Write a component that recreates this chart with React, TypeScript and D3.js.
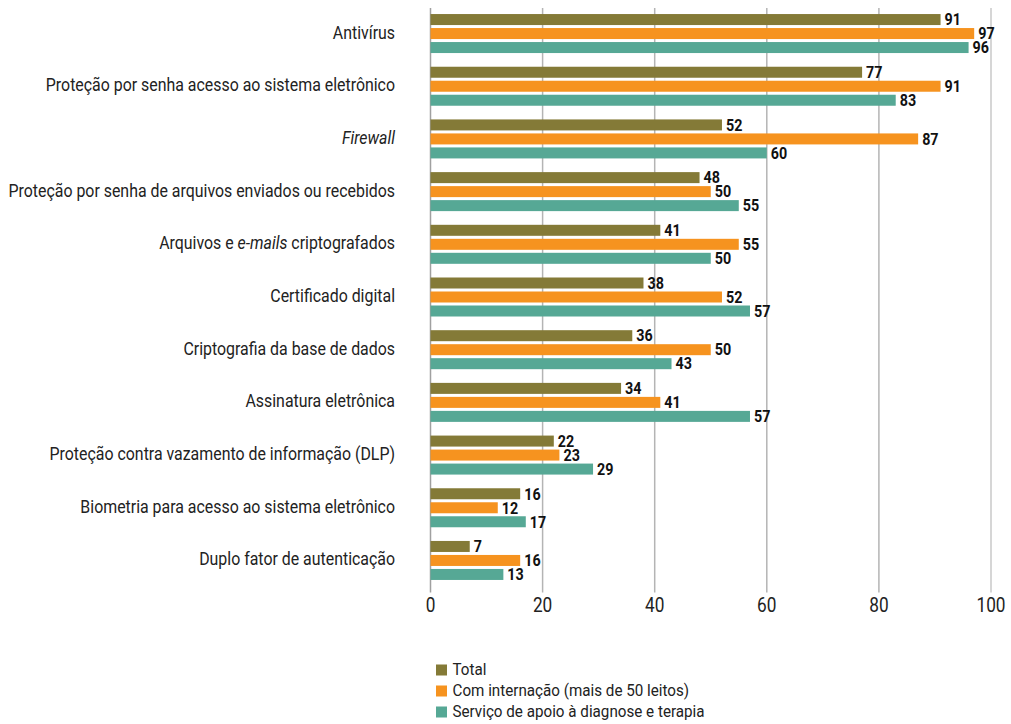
import React, { useLayoutEffect, useRef, useState } from "react";
import * as d3 from "d3";

const categories: string[] = [
  "Antivírus",
  "Proteção por senha acesso ao sistema eletrônico",
  "Firewall",
  "Proteção por senha de arquivos enviados ou recebidos",
  "Arquivos e e-mails criptografados",
  "Certificado digital",
  "Criptografia da base de dados",
  "Assinatura eletrônica",
  "Proteção contra vazamento de informação (DLP)",
  "Biometria para acesso ao sistema eletrônico",
  "Duplo fator de autenticação",
];

const seriesNames: string[] = [
  "Total",
  "Com internação (mais de 50 leitos)",
  "Serviço de apoio à diagnose e terapia",
];

const totalValues: number[] = [91, 77, 52, 48, 41, 38, 36, 34, 22, 16, 7];
const internacaoValues: number[] = [97, 91, 87, 50, 55, 52, 50, 41, 23, 12, 16];
const apoioValues: number[] = [96, 83, 60, 55, 50, 57, 43, 57, 29, 17, 13];

const xTicks: number[] = [0, 20, 40, 60, 80, 100];

const colors: string[] = ["#847a37", "#f6931f", "#56a895"];

const FONT = "Roboto, 'Liberation Sans', sans-serif";
const LABEL_SIZE = 18;
const TARGET_WIDTH = 387; // widest category label width in reference

function renderLabel(c: string) {
  if (c === "Firewall") return <tspan fontStyle="italic">Firewall</tspan>;
  if (c.includes("e-mails")) {
    const [a, b] = c.split("e-mails");
    return (
      <>
        <tspan>{a}</tspan>
        <tspan fontStyle="italic">e-mails</tspan>
        <tspan>{b}</tspan>
      </>
    );
  }
  return c;
}

export default function App() {
  const W = 1011;
  const H = 724;
  const measureRef = useRef<SVGTextElement>(null);
  const [sx, setSx] = useState(0.86);

  useLayoutEffect(() => {
    if (measureRef.current) {
      const w = measureRef.current.getComputedTextLength();
      if (w > 0) setSx(TARGET_WIDTH / w);
    }
  }, []);

  const x = d3.scaleLinear().domain([0, 100]).range([430.5, 991]);
  const y = d3.scaleBand<string>().domain(categories).range([7.2, 586.8]).paddingInner(0).paddingOuter(0);
  const series = [totalValues, internacaoValues, apoioValues];
  const barH = 11;
  const pitch = 14;

  return (
    <svg
      width={W}
      height={H}
      style={{ position: "absolute", left: 0, top: 0, background: "#fff" }}
      fontFamily={FONT}
    >
      <text ref={measureRef} x={-2000} y={-100} fontSize={LABEL_SIZE} visibility="hidden">
        {categories[3]}
      </text>
      {/* gridlines */}
      {xTicks.map((t) => (
        <line
          key={"g" + t}
          x1={x(t)}
          x2={x(t)}
          y1={8}
          y2={592.5}
          stroke={t === 0 ? "#a0a0a0" : t === 100 ? "#c8c8c8" : "#b4b4b4"}
          strokeWidth={1.5}
        />
      ))}
      {/* tick labels */}
      {xTicks.map((t) => (
        <text
          key={"t" + t}
          transform={`translate(${x(t)}, 612.3) scale(${sx}, 1)`}
          textAnchor="middle"
          fontSize={19.5}
          fill="#222"
        >
          {t}
        </text>
      ))}
      {/* categories */}
      {categories.map((c, i) => {
        const cy = (y(c) as number) + y.bandwidth() / 2;
        return (
          <g key={c}>
            <text
              transform={`translate(395, ${cy + 5}) scale(${sx}, 1)`}
              textAnchor="end"
              fontSize={LABEL_SIZE}
              fill="#222"
            >
              {renderLabel(c)}
            </text>
            {series.map((vals, s) => {
              const top = cy - (pitch + barH / 2) + s * pitch;
              return (
                <g key={s}>
                  <rect x={x(0)} y={top} width={x(vals[i]) - x(0)} height={barH} fill={colors[s]} />
                  <text
                    transform={`translate(${x(vals[i]) + 4}, ${top + barH / 2 + 5.8}) scale(${sx}, 1)`}
                    fontSize={16.2}
                    fontWeight="bold"
                    fill="#111"
                  >
                    {vals[i]}
                  </text>
                </g>
              );
            })}
          </g>
        );
      })}
      {/* legend */}
      {seriesNames.map((n, s) => (
        <g key={n} transform={`translate(436, ${664.5 + s * 21})`}>
          <rect x={0} y={0} width={11} height={11} fill={colors[s]} />
          <text
            transform={`translate(16.5, 10.5) scale(${sx}, 1)`}
            fontSize={17.2}
            fill="#222"
          >
            {n}
          </text>
        </g>
      ))}
    </svg>
  );
}
